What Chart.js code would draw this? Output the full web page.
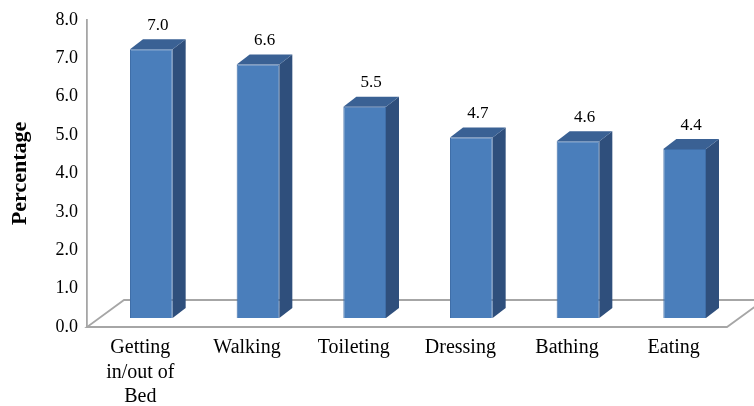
<!DOCTYPE html>
<html lang="en">
<head>
    <meta charset="UTF-8">
    <title>Percentage by Activity</title>
    <script src="https://cdn.jsdelivr.net/npm/chart.js"></script>
    <style>
        body {
            margin: 0;
            padding: 0;
            background: #ffffff;
        }
        .wrap {
            width: 754px;
            height: 406px;
        }
    </style>
</head>
<body>
    <div class="wrap">
        <canvas id="activityChart" width="754" height="406"></canvas>
    </div>
    <script>
        const categories = [['Getting', 'in/out of', 'Bed'], 'Walking', 'Toileting', 'Dressing', 'Bathing', 'Eating'];
        const percentages = [7.0, 6.6, 5.5, 4.7, 4.6, 4.4];
        const yMin = 0;
        const yMax = 8;
        const yStep = 1;

        // pseudo-3D look: bars sit a bit back on the floor, with side and top faces
        const barShift = { x: 11, y: -9 };
        const barDepth = { x: 13, y: -10 };
        const floorDepth = { x: 37, y: -27 };

        const threeD = {
            id: 'threeD',
            beforeDatasetsDraw(chart) {
                const ctx = chart.ctx;
                const area = chart.chartArea;
                const base = chart.scales.y.getPixelForValue(0);
                ctx.save();
                ctx.strokeStyle = '#a6a6a6';
                ctx.lineWidth = 1.8;
                ctx.beginPath();
                ctx.moveTo(area.left, base);
                ctx.lineTo(area.right, base);
                ctx.lineTo(area.right + floorDepth.x, base + floorDepth.y);
                ctx.lineTo(area.left + floorDepth.x, base + floorDepth.y);
                ctx.closePath();
                ctx.stroke();
                ctx.restore();

                ctx.save();
                ctx.translate(barShift.x, barShift.y);
            },
            afterDatasetsDraw(chart) {
                const ctx = chart.ctx;
                const meta = chart.getDatasetMeta(0);
                meta.data.forEach((bar, i) => {
                    const p = bar.getProps(['x', 'y', 'base', 'width'], true);
                    const x1 = p.x - p.width / 2;
                    const x2 = p.x + p.width / 2;
                    // side face
                    ctx.fillStyle = '#2f4f7c';
                    ctx.beginPath();
                    ctx.moveTo(x2, p.y);
                    ctx.lineTo(x2 + barDepth.x, p.y + barDepth.y);
                    ctx.lineTo(x2 + barDepth.x, p.base + barDepth.y);
                    ctx.lineTo(x2, p.base);
                    ctx.closePath();
                    ctx.fill();
                    // top face
                    ctx.fillStyle = '#3a6194';
                    ctx.beginPath();
                    ctx.moveTo(x1, p.y);
                    ctx.lineTo(x2, p.y);
                    ctx.lineTo(x2 + barDepth.x, p.y + barDepth.y);
                    ctx.lineTo(x1 + barDepth.x, p.y + barDepth.y);
                    ctx.closePath();
                    ctx.fill();
                    // value label
                    ctx.fillStyle = '#000';
                    ctx.font = '17px "Liberation Serif", serif';
                    ctx.textAlign = 'center';
                    ctx.textBaseline = 'middle';
                    ctx.fillText(percentages[i].toFixed(1), p.x + barDepth.x / 2, p.y - 24);
                });
                ctx.restore();
            }
        };

        const ctx = document.getElementById('activityChart').getContext('2d');
        new Chart(ctx, {
            type: 'bar',
            data: {
                labels: categories,
                datasets: [{
                    data: percentages,
                    backgroundColor: '#4a7ebb',
                    borderColor: '#3f6ea8',
                    borderWidth: 1,
                    barPercentage: 0.4,
                    categoryPercentage: 1.0,
                    clip: false
                }]
            },
            options: {
                responsive: false,
                animation: false,
                layout: {
                    padding: { top: 18, right: 27, left: 0, bottom: 0 }
                },
                plugins: {
                    legend: { display: false },
                    tooltip: { enabled: false }
                },
                scales: {
                    x: {
                        grid: { display: false, drawTicks: false },
                        border: { display: false },
                        ticks: {
                            color: '#000',
                            padding: 9,
                            maxRotation: 0,
                            font: { family: '"Liberation Serif", serif', size: 20, lineHeight: 1.22 }
                        },
                        afterFit(scale) { scale.height = 79; }
                    },
                    y: {
                        min: yMin,
                        max: yMax,
                        grid: { display: false, drawTicks: false },
                        border: { display: true, color: '#a6a6a6', width: 1.8 },
                        ticks: {
                            stepSize: yStep,
                            color: '#000',
                            padding: 9,
                            font: { family: '"Liberation Serif", serif', size: 18 },
                            callback: v => v.toFixed(1)
                        },
                        title: {
                            display: true,
                            text: 'Percentage',
                            color: '#000',
                            padding: { top: 7, bottom: 0 },
                            font: { family: '"Liberation Serif", serif', size: 22, weight: 'bold' }
                        },
                        afterFit(scale) { scale.width = 87; }
                    }
                }
            },
            plugins: [threeD]
        });
    </script>
</body>
</html>
